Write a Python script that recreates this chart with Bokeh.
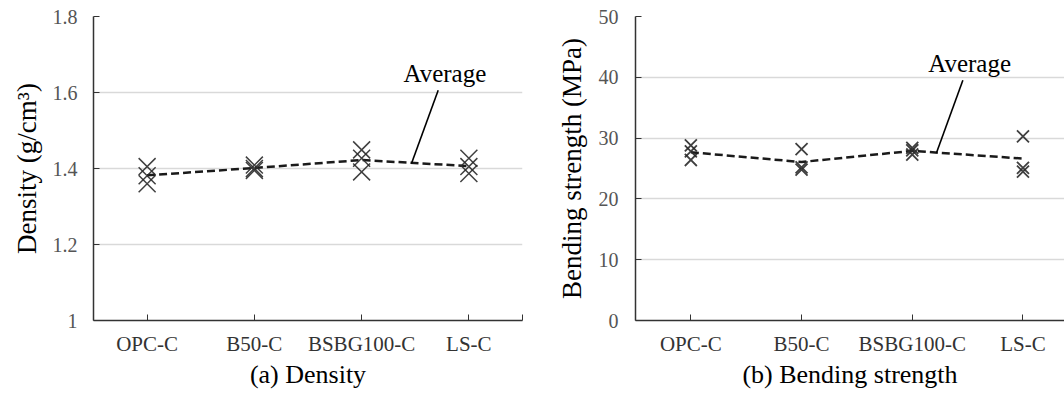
from bokeh.plotting import figure
from bokeh.layouts import row
from bokeh.models import Range1d, FixedTicker
from bokeh.core.properties import value
from bokeh.embed import file_html
from bokeh.resources import INLINE
import numpy as np

# ---------------- data ----------------
categories = ["OPC-C", "B50-C", "BSBG100-C", "LS-C"]

# density (g/cm3), three specimens per mix
density_s1 = [1.405, 1.409, 1.449, 1.427]
density_s2 = [1.381, 1.400, 1.427, 1.405]
density_s3 = [1.360, 1.395, 1.391, 1.387]

# bending strength (MPa), three specimens per mix
bending_s1 = [28.8, 28.2, 28.4, 30.3]
bending_s2 = [27.8, 25.2, 28.0, 25.1]
bending_s3 = [26.4, 24.8, 27.3, 24.5]

density_ticks = [1.0, 1.2, 1.4, 1.6, 1.8]
density_tick_labels = ["1", "1.2", "1.4", "1.6", "1.8"]
bending_ticks = [0, 10, 20, 30, 40, 50]
bending_tick_labels = ["0", "10", "20", "30", "40", "50"]

avg_label = "Average"

FONT = "'Liberation Serif', serif"


def make_panel(s1, s2, s3, yticks, ylabels, yrange, xend, ylab, title,
               width, bl, br, bt, msize, mwidth, note_xy, leader,
               tick_standoff, label_standoff, end_tick):
    xs = [i + 0.5 for i in range(len(categories))]
    p = figure(width=width, height=394, output_backend="svg",
               toolbar_location=None, x_range=Range1d(0, xend),
               y_range=Range1d(*yrange),
               min_border_left=bl, min_border_right=br,
               min_border_top=bt, min_border_bottom=74)
    p.background_fill_color = "white"
    p.border_fill_color = "white"
    p.outline_line_color = None

    p.xgrid.visible = False
    p.ygrid.grid_line_color = "#d9d9d9"
    p.ygrid.grid_line_width = 1.3
    p.ygrid.ticker = FixedTicker(ticks=yticks)

    # y axis
    p.yaxis.ticker = FixedTicker(ticks=yticks)
    p.yaxis.major_label_overrides = {t: l for t, l in zip(yticks, ylabels)}
    p.yaxis.major_tick_in = 6
    p.yaxis.major_tick_out = 0
    p.yaxis.minor_tick_line_color = None
    p.yaxis.axis_line_color = "#333333"
    p.yaxis.axis_line_width = 1.5
    p.yaxis.major_tick_line_color = "#333333"
    p.yaxis.major_label_text_font = FONT
    p.yaxis.major_label_text_font_size = "20px"
    p.yaxis.major_label_text_color = "#555555"
    p.yaxis.major_label_standoff = tick_standoff
    p.yaxis.axis_label = ylab
    p.yaxis.axis_label_text_font = FONT
    p.yaxis.axis_label_text_font_size = "27px"
    p.yaxis.axis_label_text_font_style = "normal"
    p.yaxis.axis_label_text_color = "black"
    p.yaxis.axis_label_standoff = label_standoff

    # x axis
    xt = list(xs) + ([xend] if end_tick else [])
    p.xaxis.ticker = FixedTicker(ticks=xt)
    ov = {x: c for x, c in zip(xs, categories)}
    if end_tick:
        ov[xend] = ""
    p.xaxis.major_label_overrides = ov
    p.xaxis.major_tick_in = 6
    p.xaxis.major_tick_out = 0
    p.xaxis.minor_tick_line_color = None
    p.xaxis.axis_line_color = "#333333"
    p.xaxis.axis_line_width = 1.5
    p.xaxis.major_tick_line_color = "#333333"
    p.xaxis.major_label_text_font = FONT
    p.xaxis.major_label_text_font_size = "21px"
    p.xaxis.major_label_text_color = "#333333"
    p.xaxis.major_label_standoff = 11
    p.xaxis.axis_label = title
    p.xaxis.axis_label_text_font = FONT
    p.xaxis.axis_label_text_font_size = "26px"
    p.xaxis.axis_label_text_font_style = "normal"
    p.xaxis.axis_label_text_color = "black"
    p.xaxis.axis_label_standoff = 1

    # average dashed line
    avg = np.mean([s1, s2, s3], axis=0)
    p.line(xs, avg, line_color="#1a1a1a", line_width=2.5, line_dash="8 4")

    # specimens
    for s in (s1, s2, s3):
        p.scatter(xs, s, marker="x", size=msize, line_color="#2b2b2b",
                  line_alpha=0.9, line_width=mwidth)

    # annotation
    p.segment(x0=[leader[0]], y0=[leader[1]], x1=[leader[2]], y1=[leader[3]],
              line_color="black", line_width=1.6)
    p.text(x=[note_xy[0]], y=[note_xy[1]], text=[avg_label],
           text_font=value(FONT), text_font_size="25px", y_offset=-9,
           text_color="black", text_baseline="alphabetic", text_align="left")
    return p


left = make_panel(density_s1, density_s2, density_s3,
                  density_ticks, density_tick_labels, (1.0, 1.8), 4.0,
                  "Density (g/cm³)", "(a) Density",
                  width=540, bl=93, br=18, bt=16, msize=24, mwidth=1.5,
                  note_xy=(2.89, 1.627), leader=(3.214, 1.606, 2.965, 1.413),
                  tick_standoff=16, label_standoff=8, end_tick=True)

right = make_panel(bending_s1, bending_s2, bending_s3,
                   bending_ticks, bending_tick_labels, (0, 50), 3.875,
                   "Bending strength (MPa)", "(b) Bending strength",
                   width=524, bl=95, br=0, bt=9, msize=17, mwidth=1.8,
                   note_xy=(2.644, 40.8), leader=(2.957, 39.5, 2.719, 27.6),
                   tick_standoff=17, label_standoff=9, end_tick=False)

layout = row(left, right)
open("out.html", "w").write(file_html(layout, INLINE))
